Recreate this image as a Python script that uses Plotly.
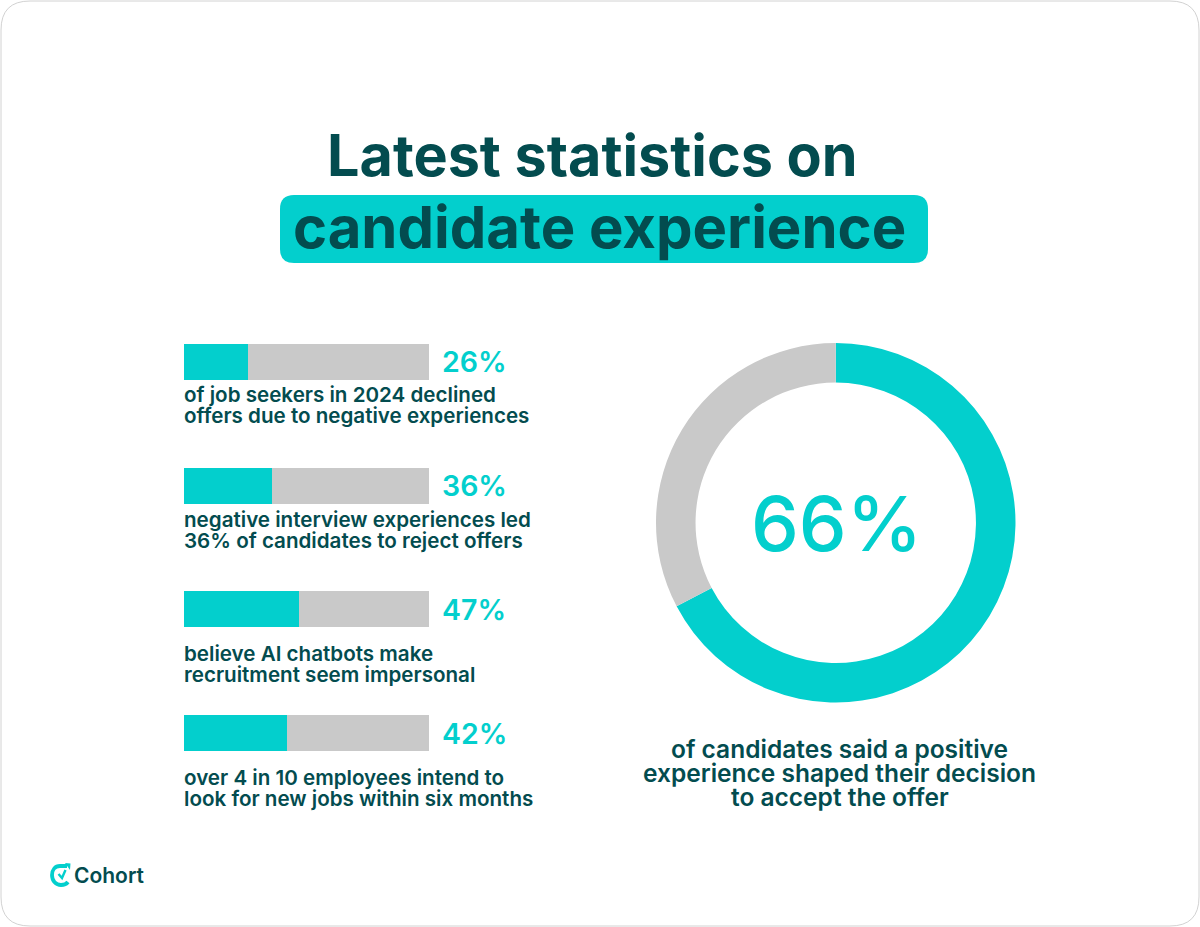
import plotly.graph_objects as go

# values
bar_values = [26, 36, 47, 42]
bar_rest = [100 - v for v in bar_values]
bar_names = ["a", "b", "c", "d"]
bar_captions = [
    ["of job seekers in 2024 declined", "offers due to negative experiences"],
    ["negative interview experiences led", "36% of candidates to reject offers"],
    ["believe AI chatbots make", "recruitment seem impersonal"],
    ["over 4 in 10 employees intend to", "look for new jobs within six months"],
]
caption_y = [[394, 415], [519, 540], [653, 674], [777, 798]]
pct_y = [361, 485, 609, 733]

donut_labels = ["positive", "other"]
# the ring in the picture is drawn a little past the 66 it is labelled with
donut_values = [67.3, 32.7]
donut_label = "66%"
donut_caption = [
    "of candidates said a positive",
    "experience shaped their decision",
    "to accept the offer",
]

TEAL = "#03cfcd"
DARK = "#034c4f"
GREY = "#c9c9c9"
FONT = "Inter"

W = 1200
H = 927

fig = go.Figure()

fig.add_trace(go.Bar(y=bar_names, x=bar_values, orientation="h", xaxis="x2", yaxis="y2",
                     marker=dict(color=TEAL, line_width=0), hoverinfo="skip"))
fig.add_trace(go.Bar(y=bar_names, x=bar_rest, orientation="h", xaxis="x2", yaxis="y2",
                     marker=dict(color=GREY, line_width=0), hoverinfo="skip"))

fig.add_trace(go.Pie(
    labels=donut_labels, values=donut_values, hole=0.78, sort=False, direction="clockwise",
    rotation=0, textinfo="none", hoverinfo="skip", showlegend=False,
    marker=dict(colors=[TEAL, GREY], line_width=0),
    domain=dict(x=[656 / W, 1015.5 / W], y=[1 - 702.5 / H, 1 - 343 / H]),
))


def text(x, y, s, size, color=DARK, weight=600, anchor="left"):
    fig.add_annotation(xref="x", yref="y", x=x, y=y, text=s, showarrow=False, xanchor=anchor, yanchor="middle",
                       font=dict(family=FONT, size=size, color=color, weight=weight))


# title
text(592, 155, "Latest statistics on", 57.5, weight=700, anchor="center")
text(599, 227, "candidate experience", 58, weight=700, anchor="center")

for i in range(len(bar_values)):
    text(439.5, pct_y[i], str(bar_values[i]) + "%", 28.5, color=TEAL, weight=600)
    text(182, caption_y[i][0], bar_captions[i][0], 20.6)
    text(182, caption_y[i][1], bar_captions[i][1], 20.6)

text(836, 523, donut_label, 76, color=TEAL, weight=500, anchor="center")
for i in range(len(donut_caption)):
    text(839.5, 749 + i * 24, donut_caption[i], 24.5, anchor="center")

text(72, 875.5, "Cohort", 21)

fig.update_layout(
    width=W, height=H, margin=dict(l=0, r=0, t=0, b=0), barmode="stack", bargap=1 - 36 / 123.5,
    paper_bgcolor="white", plot_bgcolor="rgba(0,0,0,0)", showlegend=False,
    # page sized axes, so shapes and texts can be given in pixels
    xaxis=dict(domain=[0, 1], range=[0, W], visible=False),
    yaxis=dict(domain=[0, 1], range=[H, 0], visible=False),
    xaxis2=dict(domain=[184 / W, 429 / W], range=[0, 100], visible=False, anchor="y2"),
    yaxis2=dict(domain=[1 - 794.8 / H, 1 - 300.3 / H], autorange="reversed", visible=False, type="category", anchor="x2"),
    shapes=[
        # card
        dict(type="path", xref="x", yref="y", layer="below", line=dict(color="#d2d2d2", width=1), fillcolor="white",
             path="M 30 1 L 1170 1 Q 1199 1 1199 30 L 1199 897 Q 1199 926 1170 926 L 30 926 Q 1 926 1 897 L 1 30 Q 1 1 30 1 Z"),
        # title highlight
        dict(type="path", xref="x", yref="y", layer="below", line_width=0, fillcolor=TEAL,
             path="M 294 195 L 914 195 Q 928 195 928 209 L 928 249 Q 928 263 914 263 L 294 263 Q 280 263 280 249 L 280 209 Q 280 195 294 195 Z"),
        # logo
        dict(type="path", xref="x", yref="y", line=dict(color=TEAL, width=3.8),
             path="M 67 866 L 60 866 C 55 866 52 870 52 875 C 52 881 56 885 61 885 C 64 885 66.5 884 68 882"),
        dict(type="path", xref="x", yref="y", line_width=0, fillcolor=TEAL,
             path="M 65 863 L 70.5 863.5 L 70 870 Z"),
        dict(type="path", xref="x", yref="y", line=dict(color=TEAL, width=2.4),
             path="M 58.5 874 L 62 878 L 65.5 870"),
    ],
)

fig.write_html("out.html", post_script="document.body.style.margin='0';", config=dict(displayModeBar=False))
